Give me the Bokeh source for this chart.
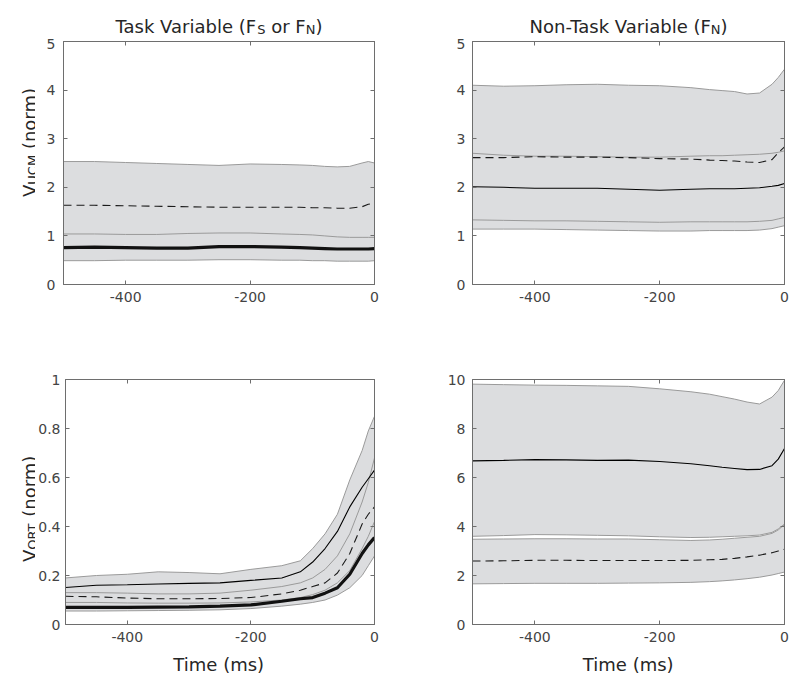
from bokeh.plotting import figure
from bokeh.models import (Range1d, FixedTicker, LinearAxis, Label,
                          CustomJSTickFormatter)
from bokeh.layouts import column, row
from bokeh.embed import file_html
from bokeh.resources import INLINE

# ---------------- data ----------------
TIME = [-500, -450, -400, -350, -300, -250, -200, -150, -120, -100, -80, -60, -40, -20, -10, 0]

# Top-left: V_UCM, task variable
tl_upper = [2.53, 2.53, 2.51, 2.49, 2.47, 2.45, 2.48, 2.47, 2.46, 2.45, 2.43, 2.42, 2.43, 2.50, 2.53, 2.50]
tl_mid = [1.04, 1.04, 1.03, 1.03, 1.05, 1.06, 1.06, 1.04, 1.03, 1.02, 1.00, 0.98, 0.97, 0.97, 0.97, 0.97]
tl_lower = [0.49, 0.49, 0.50, 0.50, 0.50, 0.51, 0.51, 0.50, 0.50, 0.49, 0.49, 0.48, 0.48, 0.48, 0.48, 0.49]
tl_dashed = [1.63, 1.63, 1.62, 1.61, 1.60, 1.59, 1.59, 1.59, 1.59, 1.58, 1.58, 1.57, 1.57, 1.60, 1.65, 1.68]
tl_thick = [0.76, 0.77, 0.76, 0.75, 0.75, 0.78, 0.78, 0.77, 0.76, 0.75, 0.74, 0.73, 0.73, 0.73, 0.73, 0.74]

# Top-right: V_UCM, non-task variable
tr_upper = [4.10, 4.08, 4.09, 4.11, 4.12, 4.10, 4.09, 4.05, 4.01, 3.99, 3.97, 3.92, 3.94, 4.12, 4.26, 4.43]
tr_mid_hi = [2.70, 2.66, 2.64, 2.64, 2.63, 2.62, 2.62, 2.64, 2.65, 2.65, 2.66, 2.67, 2.68, 2.70, 2.72, 2.75]
tr_mid_lo = [1.33, 1.32, 1.31, 1.31, 1.30, 1.29, 1.28, 1.29, 1.29, 1.29, 1.29, 1.29, 1.30, 1.32, 1.35, 1.38]
tr_lower = [1.14, 1.14, 1.14, 1.13, 1.12, 1.11, 1.10, 1.10, 1.11, 1.11, 1.11, 1.11, 1.12, 1.15, 1.18, 1.21]
tr_dashed = [2.61, 2.61, 2.63, 2.62, 2.62, 2.61, 2.59, 2.58, 2.56, 2.55, 2.54, 2.52, 2.51, 2.57, 2.71, 2.83]
tr_solid = [2.01, 2.00, 1.98, 1.98, 1.98, 1.96, 1.94, 1.96, 1.97, 1.97, 1.97, 1.98, 1.99, 2.02, 2.04, 2.08]

# Bottom-left: V_ORT, task variable
bl_upper = [0.19, 0.20, 0.205, 0.215, 0.212, 0.207, 0.225, 0.24, 0.26, 0.31, 0.37, 0.45, 0.59, 0.71, 0.79, 0.85]
bl_mid_hi = [0.13, 0.13, 0.128, 0.125, 0.125, 0.128, 0.14, 0.155, 0.17, 0.19, 0.225, 0.28, 0.37, 0.50, 0.58, 0.68]
bl_mid_lo = [0.09, 0.09, 0.088, 0.087, 0.087, 0.088, 0.092, 0.10, 0.11, 0.122, 0.14, 0.17, 0.22, 0.31, 0.36, 0.42]
bl_lower = [0.055, 0.055, 0.056, 0.057, 0.058, 0.06, 0.065, 0.075, 0.083, 0.09, 0.10, 0.12, 0.15, 0.20, 0.24, 0.28]
bl_solid = [0.151, 0.16, 0.162, 0.165, 0.168, 0.17, 0.18, 0.19, 0.215, 0.255, 0.31, 0.38, 0.48, 0.56, 0.595, 0.63]
bl_dashed = [0.115, 0.113, 0.108, 0.105, 0.105, 0.106, 0.11, 0.125, 0.14, 0.155, 0.17, 0.21, 0.29, 0.41, 0.45, 0.48]
bl_thick = [0.07, 0.07, 0.07, 0.071, 0.072, 0.075, 0.08, 0.095, 0.105, 0.11, 0.128, 0.15, 0.205, 0.29, 0.325, 0.355]

# Bottom-right: V_ORT, non-task variable
br_upper = [9.81, 9.79, 9.77, 9.76, 9.74, 9.72, 9.62, 9.50, 9.40, 9.30, 9.20, 9.08, 9.00, 9.28, 9.55, 9.97]
br_upper_lo = [3.60, 3.63, 3.67, 3.66, 3.64, 3.62, 3.58, 3.55, 3.56, 3.58, 3.60, 3.62, 3.65, 3.76, 3.90, 4.10]
br_lower_hi = [3.48, 3.49, 3.50, 3.50, 3.49, 3.49, 3.46, 3.43, 3.45, 3.48, 3.52, 3.56, 3.60, 3.72, 3.86, 4.08]
br_lower = [1.66, 1.67, 1.68, 1.68, 1.68, 1.69, 1.70, 1.72, 1.75, 1.78, 1.82, 1.87, 1.93, 2.02, 2.08, 2.14]
br_solid = [6.68, 6.70, 6.73, 6.72, 6.70, 6.71, 6.65, 6.56, 6.48, 6.42, 6.37, 6.32, 6.33, 6.48, 6.75, 7.18]
br_dashed = [2.59, 2.60, 2.62, 2.62, 2.61, 2.61, 2.61, 2.62, 2.64, 2.66, 2.70, 2.76, 2.83, 2.93, 3.00, 3.07]

X_TICKS = [-400, -200, 0]
X_TICK_LABELS = ["-400", "-200", "0"]
TL_TICKS = [0, 1, 2, 3, 4, 5]
BL_TICKS = [0, 0.2, 0.4, 0.6, 0.8, 1]
BL_TICK_LABELS = ["0", "0.2", "0.4", "0.6", "0.8", "1"]
BR_TICKS = [0, 2, 4, 6, 8, 10]

NB = "\u00a0"  # non-breaking space (SVG would drop a leading plain space)
TITLE_LEFT = [("Task Variable (F", "main"), ("S", "sub"), (NB + "or F", "main"), ("N", "sub"), (")", "main")]
TITLE_RIGHT = [("Non-Task Variable (F", "main"), ("N", "sub"), (")", "main")]
YLABEL_TOP = [("V", "main"), ("UCM", "sub"), (NB + "(norm)", "main")]
YLABEL_BOTTOM = [("V", "main"), ("ORT", "sub"), (NB + "(norm)", "main")]
XLABEL = "Time (ms)"

# ---------------- style ----------------
FONT = "DejaVu Sans"
FILL = "#dcdddf"
EDGE = "#9a9a9a"
AXIS = "#6e6e6e"
TICKLAB = "#444444"
TXT = "#262626"
SIZES = {"main": 18, "sub": 13}
SUB_SHIFT = 2.5

# DejaVu Sans advance widths (em) and main kerning pairs, to compose sub-scripted labels
ADV = {"T": .611, "a": .613, "s": .521, "k": .579, " ": .318, NB: .318, "V": .684, "r": .411,
       "i": .278, "b": .635, "l": .278, "e": .615, "(": .390, ")": .390, "F": .575,
       "o": .612, "S": .635, "N": .748, "n": .634, "m": .974, "-": .361, "U": .732,
       "C": .698, "M": .863, "O": .787, "R": .695, "t": .392}
KERN = {"Ta": -0.10, "Va": -0.08, "-T": -0.16}


def tw(s, size):
    w = sum(ADV.get(c, 0.6) for c in s)
    w += sum(KERN.get(s[i:i + 2], 0) for i in range(len(s) - 1))
    return w * size


def text_fig(w, h):
    """A blank figure used only as a canvas for text (annotations are clipped to frames)."""
    f = figure(width=w, height=h, x_range=Range1d(0, w), y_range=Range1d(0, h),
               x_axis_type=None, y_axis_type=None, output_backend="svg",
               toolbar_location=None, min_border=0)
    f.min_border_left = f.min_border_right = f.min_border_top = f.min_border_bottom = 0
    f.xgrid.visible = False
    f.ygrid.visible = False
    f.outline_line_color = None
    f.background_fill_color = "white"
    f.border_fill_color = "white"
    return f


def rich(f, cx, cy, pieces, vertical=False):
    total = sum(tw(t, SIZES[k]) for t, k in pieces)
    pos = -total / 2.0
    for t, k in pieces:
        sz = SIZES[k]
        sh = SUB_SHIFT if k == "sub" else 0
        if vertical:
            lab = Label(x=cx, y=cy, x_offset=sh, y_offset=pos, text=t, angle=90,
                        angle_units="deg")
        else:
            lab = Label(x=cx, y=cy, x_offset=pos, y_offset=-sh, text=t)
        lab.text_font = FONT
        lab.text_font_size = f"{sz}px"
        lab.text_color = TXT
        lab.text_align = "left"
        lab.text_baseline = "alphabetic"
        f.add_layout(lab)
        pos += tw(t, sz)


def make_fig(w, h, yr, yticks, borders, ylabels=None, ystand=7):
    left, right, top, bottom = borders
    p = figure(width=w, height=h, x_range=Range1d(-500, 0), y_range=Range1d(*yr),
               output_backend="svg", toolbar_location=None,
               min_border_left=left, min_border_right=right,
               min_border_top=top, min_border_bottom=bottom)
    p.xgrid.visible = False
    p.ygrid.visible = False
    p.outline_line_color = AXIS
    p.outline_line_width = 1
    p.background_fill_color = "white"
    p.border_fill_color = "white"

    p.xaxis.ticker = FixedTicker(ticks=X_TICKS)
    p.xaxis.major_label_overrides = {t: s for t, s in zip(X_TICKS, X_TICK_LABELS)}
    p.yaxis.ticker = FixedTicker(ticks=yticks)
    labs = ylabels if ylabels is not None else [str(t) for t in yticks]
    p.yaxis.major_label_overrides = {t: s for t, s in zip(yticks, labs)}
    for ax in (p.xaxis[0], p.yaxis[0]):
        ax.axis_line_color = AXIS
        ax.major_tick_line_color = AXIS
        ax.major_tick_in = 4
        ax.major_tick_out = 0
        ax.minor_tick_line_color = None
        ax.major_label_text_font = FONT
        ax.major_label_text_font_size = "14px"
        ax.major_label_text_color = TICKLAB
    p.xaxis.major_label_standoff = 7
    p.yaxis.major_label_standoff = ystand

    for ticks, side in ((X_TICKS, "above"), (yticks, "right")):
        ax = LinearAxis(ticker=FixedTicker(ticks=ticks),
                        formatter=CustomJSTickFormatter(code="return ''"))
        ax.axis_line_color = AXIS
        ax.major_tick_line_color = AXIS
        ax.major_tick_in = 4
        ax.major_tick_out = 0
        ax.minor_tick_line_color = None
        ax.major_label_text_font_size = "1px"
        ax.major_label_standoff = 0
        p.add_layout(ax, side)
    return p


def band(p, lo, hi):
    p.varea(x=TIME, y1=lo, y2=hi, fill_color=FILL, fill_alpha=1.0)


def edges(p, *series):
    for s in series:
        p.line(TIME, s, line_color=EDGE, line_width=1)


def thin(p, s):
    p.line(TIME, s, line_color="black", line_width=1.1)


def dashed(p, s):
    p.line(TIME, s, line_color="#1a1a1a", line_width=1.1, line_dash="8 5")


def thick(p, s):
    p.line(TIME, s, line_color="#111111", line_width=3.2)


# ---------------- panels ----------------
# page layout (canvas starts at page 0,0): frames at x 63-374 / 472-784, y 41-284 / 379-624
p1 = make_fig(373, 300, (0, 5), TL_TICKS, (28, 34, 3, 54), ystand=8)
band(p1, tl_lower, tl_upper)
edges(p1, tl_upper, tl_mid, tl_lower)
dashed(p1, tl_dashed)
thick(p1, tl_thick)

p2 = make_fig(384, 300, (0, 5), TL_TICKS, (64, 8, 3, 54))
band(p2, tr_lower, tr_upper)
edges(p2, tr_upper, tr_mid_hi, tr_mid_lo, tr_lower)
dashed(p2, tr_dashed)
thin(p2, tr_solid)

p3 = make_fig(373, 310, (0, 1), BL_TICKS, (28, 34, 41, 24), BL_TICK_LABELS, ystand=5)
band(p3, bl_lower, bl_upper)
edges(p3, bl_upper, bl_mid_hi, bl_mid_lo, bl_lower)
thin(p3, bl_solid)
dashed(p3, bl_dashed)
thick(p3, bl_thick)

p4 = make_fig(384, 310, (0, 10), BR_TICKS, (64, 8, 41, 24))
band(p4, br_upper_lo, br_upper)
band(p4, br_lower, br_lower_hi)
edges(p4, br_upper, br_upper_lo, br_lower_hi, br_lower)
dashed(p4, br_dashed)
thin(p4, br_solid)

# ---------------- text strips ----------------
title_strip = text_fig(792, 38)          # page y 0..38, baselines at y 26
rich(title_strip, 218.5, 12, TITLE_LEFT)
rich(title_strip, 628, 12, TITLE_RIGHT)

ylab_top = text_fig(35, 300)             # page y 38..338
rich(ylab_top, 29, 175.5, YLABEL_TOP, vertical=True)

ylab_bottom = text_fig(35, 310)          # page y 338..648
rich(ylab_bottom, 29, 146.5, YLABEL_BOTTOM, vertical=True)

time_strip = text_fig(792, 30)           # page y 648..678
for cx in (218.5, 628):
    rich(time_strip, cx, 14, [(XLABEL, "main")])

layout = column(title_strip,
                row(ylab_top, p1, p2, spacing=0),
                row(ylab_bottom, p3, p4, spacing=0),
                time_strip, spacing=0)

with open("out.html", "w") as f:
    f.write(file_html(layout, INLINE))
